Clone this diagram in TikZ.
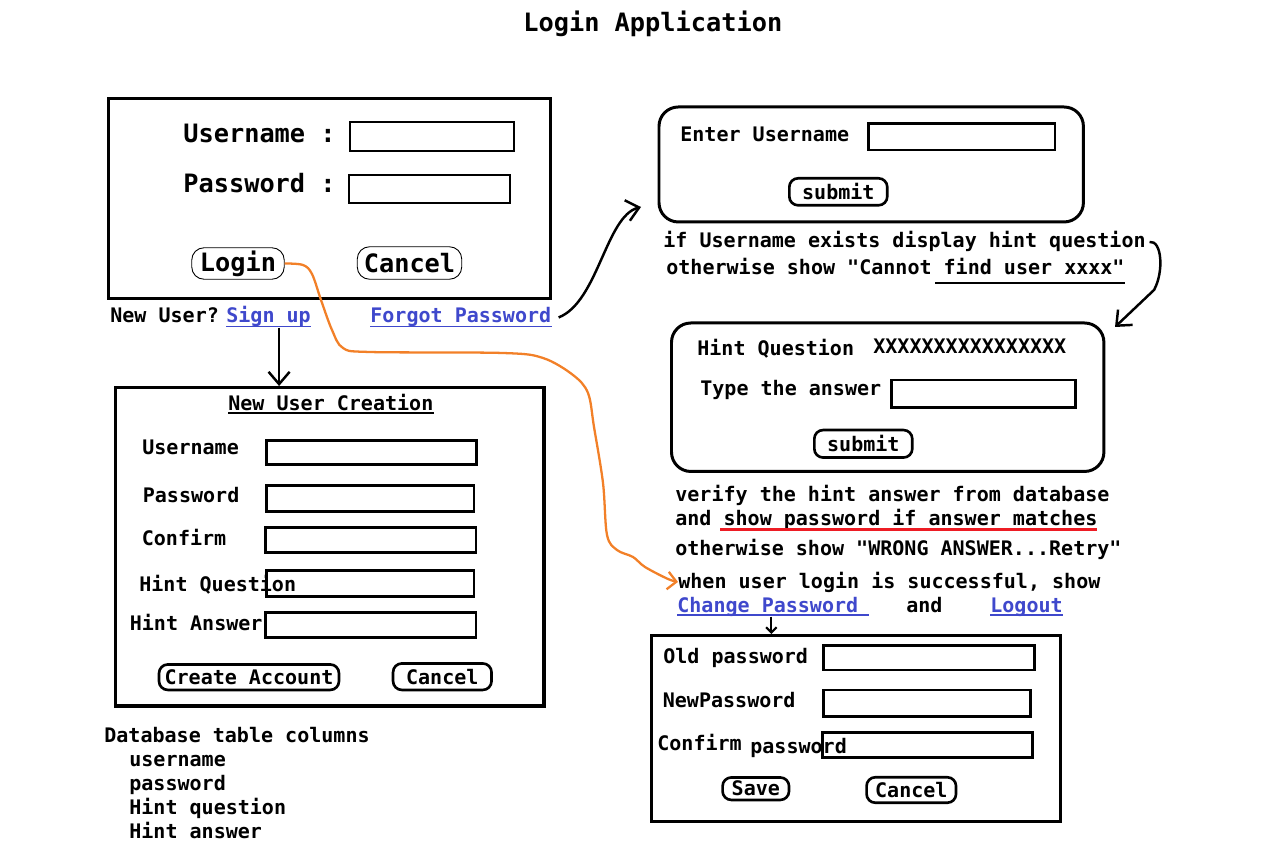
\documentclass[tikz,border=0pt]{standalone}
\usepackage{fontspec}
\setmainfont{DejaVu Sans Mono}[Ligatures=TeXOff]
\usepackage{tikz}
\usetikzlibrary{arrows.meta,positioning}

\definecolor{linkblue}{RGB}{63,72,204}
\definecolor{paintorange}{RGB}{242,128,40}
\definecolor{paintred}{RGB}{237,28,36}

\newcommand{\smallfnt}{\fontsize{11.4}{13}\selectfont\bfseries}
\newcommand{\largefnt}{\fontsize{14.4}{17}\selectfont\bfseries}

\tikzset{
  txt/.style={font=\smallfnt, inner sep=0pt, anchor=base west},
  bigtxt/.style={font=\largefnt, inner sep=0pt, anchor=base west},
  link/.style={txt, text=linkblue},
  panel/.style={draw, line width=1.8pt, anchor=north west, inner sep=0pt},
  roundpanel/.style={panel, line width=1.7pt, rounded corners=11pt},
  field/.style={draw, line width=1.5pt},
  thinfield/.style={draw, line width=0.6pt},
  btn/.style={draw, line width=1.5pt, rounded corners=5pt, font=\smallfnt, inner sep=0pt},
  thinbtn/.style={draw, line width=0.5pt, rounded corners=7pt, font=\largefnt, inner sep=0pt},
  arr/.style={line width=1.4pt, -{Straight Barb[length=7pt,width=12pt]}},
  smallarr/.style={line width=1.2pt, -{Straight Barb[length=3pt,width=6pt]}},
  orangearr/.style={paintorange, line width=1.3pt, -{Straight Barb[length=5pt,width=10pt]}},
  uline/.style={line width=1.1pt},
}

\begin{document}
\begin{tikzpicture}[x=0.02cm, y=-0.02cm]
    \useasboundingbox (0,0) rectangle (1277,847);

    \node[bigtxt] (title) at (523,32) {Login Application};

    % Login window
    \node[panel, minimum width=8.85cm, minimum height=4.0cm] (loginbox) at (106.7,96.7) {};
    \node[bigtxt] (userlbl) at (183,143) {Username :};
    \node[bigtxt] (passlbl) at (183,193) {Password :};
    \draw[thinfield] (350,122) rectangle (514,151);
    \draw[thinfield] (349,175) rectangle (510,203);
    \node[thinbtn, minimum width=1.85cm, minimum height=0.63cm] (login) at (238,263.5) {Login};
    \node[thinbtn, minimum width=2.09cm, minimum height=0.65cm] (cancel) at (409.5,263) {Cancel};

    \node[txt] (newuser) at (110,323) {New User?};
    \node[link] (signup) at (226,323) {Sign up};
    \node[link] (forgot) at (370,323) {Forgot Password};
    \draw[uline, linkblue] ([yshift=-2pt]signup.base west) -- ([yshift=-2pt]signup.base east);
    \draw[uline, linkblue] ([yshift=-2pt]forgot.base west) -- ([yshift=-2pt]forgot.base east);

    % New user creation
    \node[panel, minimum width=8.57cm, minimum height=6.37cm] (newbox) at (114,386) {};
    \node[txt] (nuc) at (228,410.5) {New User Creation};
    \draw[uline] ([yshift=-1.5pt]nuc.base west) -- ([yshift=-1.5pt]nuc.base east);
    \draw[field] (266.7,440.3) rectangle (476.7,464.7);
    \draw[field] (266.7,485.7) rectangle (474,511.7);
    \draw[field] (265.7,527.3) rectangle (476,552.3);
    \draw[field] (266.7,570.7) rectangle (474,596.7);
    \draw[field] (265.7,612.3) rectangle (476,637.3);
    \node[txt] (nuuser) at (142,455) {Username};
    \node[txt] (nupass) at (142.5,502.7) {Password};
    \node[txt] (nuconf) at (141.5,545) {Confirm};
    \node[txt] (nuhintq) at (139,591.3) {Hint Question};
    \node[txt] (nuhinta) at (129.5,630.7) {Hint Answer};
    \node[btn, minimum width=3.6cm, minimum height=0.51cm] (create) at (249,677.2) {Create Account};
    \node[btn, minimum width=1.97cm, minimum height=0.53cm] (nucancel) at (442.3,676.7) {Cancel};

    \draw[arr] ([xshift=6pt]signup.south) -- ([xshift=6pt]signup.south |- newbox.north);

    % Database columns
    \node[txt] (dbhead) at (104,742.7) {Database table columns};
    \node[txt] (dbuser) at (129,766) {username};
    \node[txt] (dbpass) at (129,790) {password};
    \node[txt] (dbhintq) at (129,814) {Hint question};
    \node[txt] (dbhinta) at (129,838) {Hint answer};

    % Forgot password: enter username
    \node[roundpanel, minimum width=8.49cm, minimum height=2.3cm] (enterbox) at (657.5,105.5) {};
    \node[txt] (enterlbl) at (680,142) {Enter Username};
    \draw[field] (868.3,123.3) rectangle (1055,150);
    \node[btn, minimum width=1.96cm, minimum height=0.54cm] (submitone) at (838.3,191.8) {submit};
    \node[txt] (ifuser) at (663,248) {if Username exists display hint question};
    \node[txt] (otheruser) at (666,275) {otherwise show "Cannot find user xxxx"};
    \draw[uline] (935,283) -- (1125,283);

    \coordinate (fpend) at (641,207);
    \draw[arr] ([xshift=4pt]forgot.east) .. controls (598,302) and (606,216) .. (fpend);

    % Hint question
    \node[roundpanel, minimum width=8.65cm, minimum height=2.97cm] (hintbox) at (670,321.5) {};
    \node[txt] (hintlbl) at (697,356) {Hint Question};
    \node[txt] (hintval) at (873,354) {XXXXXXXXXXXXXXXX};
    \node[txt] (answerlbl) at (700,396) {Type the answer};
    \draw[field] (891.7,380) rectangle (1075.7,407.3);
    \node[btn, minimum width=1.96cm, minimum height=0.55cm] (submittwo) at (863.3,443.8) {submit};

    \coordinate (brend) at (1115,327);
    \draw[arr] ([xshift=2pt]ifuser.east) .. controls (1162,240) and (1164,272) .. (1154,290) -- (brend);

    \node[txt] (verify) at (675,501) {verify the hint answer from database};
    \node[txt] (showpw) at (675,525) {and show password if answer matches};
    \draw[paintred, line width=1.3pt] (720,529.5) -- (1097,529.5);
    \node[txt] (wrong) at (675,555) {otherwise show "WRONG ANSWER...Retry"};
    \node[txt] (whensucc) at (678,588) {when user login is successful, show};
    \node[link] (chpw) at (677,612) {Change Password};
    \node[txt] (andtxt) at (906,612) {and};
    \node[link] (logout) at (990,612) {Logout};
    \draw[uline, linkblue] ([yshift=-1.5pt]chpw.base west) -- ([xshift=6pt,yshift=-1.5pt]chpw.base east);
    \draw[uline, linkblue] ([yshift=-1.5pt]logout.base west) -- ([yshift=-1.5pt]logout.base east);

    % Change password
    \node[panel, minimum width=8.18cm, minimum height=3.72cm] (chbox) at (650,634) {};
    \draw[field] (823.7,645.7) rectangle (1034.3,670);
    \draw[field] (823.7,690) rectangle (1030.7,716.7);
    \draw[field] (822.7,732.3) rectangle (1032.7,757.3);
    \node[txt] (oldlbl) at (663,663.5) {Old password};
    \node[txt] (newlbl) at (662.5,707) {NewPassword};
    \node[txt] (conflbl) at (657,750) {Confirm};
    \node[txt] (conflbltwo) at (750,753.5) {password};
    \node[btn, minimum width=1.33cm, minimum height=0.45cm] (save) at (755.8,788.7) {Save};
    \node[btn, minimum width=1.79cm, minimum height=0.51cm] (chcancel) at (911.3,790) {Cancel};

    \draw[smallarr] ([xshift=2pt]chpw.south) -- ([xshift=2pt]chpw.south |- chbox.north);

    % Login success path
    \draw[orangearr] plot[smooth, tension=0.55] coordinates {(login.east) (303,265) (312,274) (321,300) (332,330) (343,348) (370,352) (503,353) (543,358) (573,375) (588,393) (594,427) (603,483) (607,535) (617,550) (633,557) (645,567) (668,579) (whensucc.west)};
\end{tikzpicture}
\end{document}
